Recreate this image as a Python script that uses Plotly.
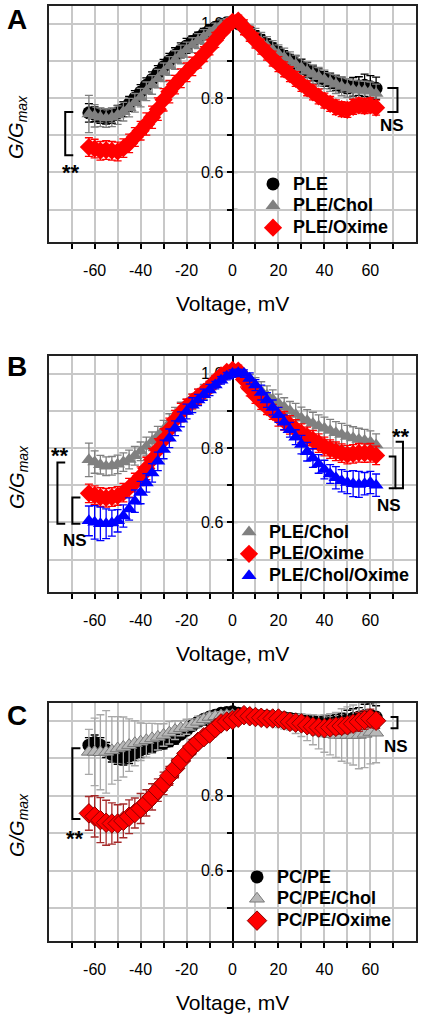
import plotly.graph_objects as go

# ---------------- data ----------------
voltage = [-62.5, -60, -57.5, -55, -52.5, -50, -47.5, -45, -42.5, -40, -37.5, -35, -32.5, -30,
           -27.5, -25, -22.5, -20, -17.5, -15, -12.5, -10, -7.5, -5, -2.5, 0, 2.5, 5, 7.5, 10,
           12.5, 15, 17.5, 20, 22.5, 25, 27.5, 30, 32.5, 35, 37.5, 40, 42.5, 45, 47.5, 50, 52.5,
           55, 57.5, 60, 62.5]

# Panel A
a_ple = [0.760, 0.756, 0.752, 0.750, 0.752, 0.760, 0.770, 0.784, 0.800, 0.816,
         0.834, 0.850, 0.867, 0.884, 0.900, 0.915, 0.928, 0.940, 0.952, 0.962,
         0.972, 0.982, 0.990, 0.997, 1.002, 1.005, 1.000, 0.990, 0.978, 0.966,
         0.955, 0.944, 0.933, 0.922, 0.912, 0.902, 0.893, 0.884, 0.875, 0.866,
         0.858, 0.851, 0.845, 0.840, 0.836, 0.832, 0.830, 0.832, 0.834, 0.830, 0.826]
a_ple_err = [0.025, 0.02, 0.02, 0.02, 0.02, 0.02, 0.02, 0.02, 0.02, 0.02,
             0.02, 0.02, 0.02, 0.02, 0.02, 0.02, 0.02, 0.02, 0.015, 0.015,
             0.015, 0.015, 0.01, 0.01, 0.01, 0.01, 0.01, 0.01, 0.01, 0.015,
             0.015, 0.015, 0.015, 0.015, 0.015, 0.015, 0.02, 0.02, 0.02, 0.02,
             0.02, 0.02, 0.02, 0.02, 0.02, 0.02, 0.025, 0.025, 0.03, 0.03, 0.03]
a_chol = [0.757, 0.752, 0.748, 0.746, 0.748, 0.754, 0.763, 0.774, 0.787, 0.801,
          0.818, 0.835, 0.852, 0.869, 0.886, 0.902, 0.917, 0.930, 0.942, 0.953,
          0.964, 0.975, 0.986, 0.995, 1.003, 1.008, 1.002, 0.990, 0.976, 0.962,
          0.951, 0.940, 0.929, 0.918, 0.909, 0.899, 0.890, 0.881, 0.872, 0.864,
          0.857, 0.850, 0.843, 0.837, 0.831, 0.827, 0.823, 0.821, 0.820, 0.818, 0.812]
a_chol_err = [0.05, 0.03, 0.025, 0.025, 0.025, 0.025, 0.025, 0.025, 0.025, 0.025,
              0.025, 0.025, 0.025, 0.025, 0.025, 0.025, 0.025, 0.02, 0.02, 0.02,
              0.02, 0.015, 0.015, 0.015, 0.01, 0.01, 0.01, 0.015, 0.02, 0.025,
              0.025, 0.025, 0.025, 0.025, 0.025, 0.025, 0.025, 0.025, 0.025, 0.025,
              0.025, 0.025, 0.025, 0.025, 0.025, 0.025, 0.025, 0.025, 0.025, 0.025, 0.025]
a_oxime = [0.668, 0.664, 0.658, 0.660, 0.658, 0.656, 0.665, 0.678, 0.695, 0.712,
           0.730, 0.748, 0.770, 0.795, 0.817, 0.836, 0.853, 0.869, 0.885, 0.900,
           0.918, 0.936, 0.956, 0.975, 0.992, 1.005, 1.008, 0.990, 0.972, 0.954,
           0.938, 0.922, 0.906, 0.891, 0.877, 0.864, 0.851, 0.838, 0.826, 0.815,
           0.804, 0.793, 0.784, 0.775, 0.770, 0.768, 0.776, 0.780, 0.778, 0.780, 0.774]
a_oxime_err = [0.025, 0.025, 0.025, 0.025, 0.025, 0.025, 0.025, 0.025, 0.025, 0.025,
               0.03, 0.03, 0.03, 0.03, 0.03, 0.025, 0.025, 0.025, 0.025, 0.02,
               0.02, 0.02, 0.02, 0.015, 0.015, 0.01, 0.015, 0.02, 0.02, 0.02,
               0.02, 0.02, 0.02, 0.02, 0.02, 0.02, 0.02, 0.02, 0.02, 0.02,
               0.02, 0.02, 0.02, 0.02, 0.02, 0.02, 0.02, 0.02, 0.02, 0.02, 0.02]

# Panel B
b_chol = [0.768, 0.762, 0.755, 0.751, 0.752, 0.756, 0.762, 0.769, 0.779, 0.791,
          0.804, 0.818, 0.833, 0.849, 0.867, 0.884, 0.898, 0.911, 0.925, 0.938,
          0.951, 0.964, 0.978, 0.991, 1.003, 1.012, 1.002, 0.990, 0.977, 0.964,
          0.953, 0.942, 0.931, 0.920, 0.910, 0.900, 0.890, 0.880, 0.873, 0.866,
          0.859, 0.853, 0.847, 0.841, 0.836, 0.831, 0.827, 0.823, 0.820, 0.816, 0.808]
b_chol_err = [0.045, 0.03, 0.025, 0.025, 0.025, 0.025, 0.025, 0.025, 0.025, 0.025,
              0.025, 0.025, 0.025, 0.025, 0.025, 0.025, 0.025, 0.02, 0.02, 0.02,
              0.02, 0.015, 0.015, 0.015, 0.01, 0.01, 0.01, 0.015, 0.02, 0.025,
              0.025, 0.025, 0.025, 0.025, 0.025, 0.025, 0.03, 0.03, 0.03, 0.03,
              0.03, 0.03, 0.03, 0.03, 0.03, 0.03, 0.03, 0.03, 0.03, 0.03, 0.03]
b_oxime = [0.678, 0.673, 0.668, 0.666, 0.668, 0.671, 0.680, 0.693, 0.707, 0.724,
           0.745, 0.769, 0.795, 0.822, 0.850, 0.876, 0.895, 0.911, 0.925, 0.938,
           0.951, 0.964, 0.980, 0.995, 1.005, 1.010, 1.008, 0.984, 0.960, 0.940,
           0.924, 0.910, 0.897, 0.884, 0.873, 0.862, 0.851, 0.840, 0.831, 0.822,
           0.813, 0.804, 0.797, 0.791, 0.786, 0.782, 0.784, 0.787, 0.786, 0.787, 0.780]
b_oxime_err = [0.025, 0.025, 0.025, 0.025, 0.025, 0.025, 0.025, 0.025, 0.025, 0.025,
               0.03, 0.03, 0.03, 0.03, 0.03, 0.025, 0.025, 0.02, 0.02, 0.02,
               0.015, 0.015, 0.015, 0.01, 0.01, 0.01, 0.015, 0.02, 0.02, 0.02,
               0.02, 0.02, 0.02, 0.025, 0.025, 0.025, 0.025, 0.025, 0.025, 0.025,
               0.025, 0.025, 0.025, 0.025, 0.025, 0.025, 0.025, 0.025, 0.025, 0.025, 0.025]
b_chol_oxime = [0.604, 0.600, 0.596, 0.596, 0.598, 0.604, 0.617, 0.636, 0.657, 0.680,
                0.706, 0.733, 0.764, 0.796, 0.826, 0.853, 0.877, 0.898, 0.915, 0.929,
                0.943, 0.956, 0.969, 0.982, 0.993, 1.000, 1.002, 1.000, 0.987, 0.969,
                0.949, 0.929, 0.909, 0.889, 0.869, 0.849, 0.829, 0.809, 0.790, 0.773,
                0.757, 0.742, 0.730, 0.720, 0.712, 0.707, 0.704, 0.702, 0.704, 0.707, 0.700]
b_chol_oxime_err = [0.04, 0.045, 0.045, 0.04, 0.035, 0.03, 0.03, 0.03, 0.03, 0.03,
                    0.025, 0.025, 0.025, 0.025, 0.025, 0.02, 0.02, 0.02, 0.02, 0.015,
                    0.015, 0.015, 0.01, 0.01, 0.01, 0.01, 0.01, 0.01, 0.015, 0.015,
                    0.02, 0.02, 0.02, 0.02, 0.02, 0.02, 0.02, 0.025, 0.025, 0.025,
                    0.025, 0.025, 0.025, 0.03, 0.03, 0.03, 0.035, 0.035, 0.03, 0.03, 0.03]

# Panel C
c_pcpe = [0.935, 0.942, 0.935, 0.922, 0.910, 0.904, 0.902, 0.906, 0.914, 0.922,
          0.927, 0.931, 0.936, 0.940, 0.946, 0.953, 0.964, 0.975, 0.987, 0.997,
          1.004, 1.010, 1.015, 1.020, 1.022, 1.024, 1.020, 1.018, 1.016, 1.015,
          1.013, 1.012, 1.011, 1.010, 1.008, 1.006, 1.004, 1.002, 1.000, 0.998,
          0.996, 0.993, 0.994, 0.997, 1.000, 1.003, 1.007, 1.010, 1.014, 1.015, 1.010]
c_pcpe_err = [0.02, 0.02, 0.02, 0.02, 0.02, 0.02, 0.02, 0.02, 0.02, 0.02,
              0.015, 0.015, 0.015, 0.015, 0.015, 0.015, 0.01, 0.01, 0.01, 0.01,
              0.01, 0.01, 0.01, 0.01, 0.01, 0.01, 0.01, 0.01, 0.01, 0.01,
              0.01, 0.01, 0.01, 0.01, 0.01, 0.01, 0.015, 0.015, 0.015, 0.015,
              0.015, 0.02, 0.02, 0.02, 0.02, 0.025, 0.025, 0.025, 0.03, 0.03, 0.03]
c_chol = [0.917, 0.917, 0.916, 0.917, 0.921, 0.926, 0.930, 0.935, 0.940, 0.944,
          0.948, 0.953, 0.957, 0.962, 0.968, 0.975, 0.980, 0.984, 0.990, 0.997,
          1.004, 1.010, 1.012, 1.014, 1.015, 1.015, 1.013, 1.012, 1.011, 1.010,
          1.008, 1.006, 1.004, 1.002, 0.998, 0.995, 0.991, 0.988, 0.982, 0.976,
          0.970, 0.966, 0.964, 0.962, 0.962, 0.962, 0.962, 0.962, 0.965, 0.970, 0.968]
c_chol_err = [0.06, 0.09, 0.1, 0.11, 0.09, 0.085, 0.08, 0.07, 0.06, 0.05,
              0.045, 0.04, 0.035, 0.03, 0.03, 0.025, 0.02, 0.02, 0.015, 0.015,
              0.01, 0.01, 0.01, 0.01, 0.01, 0.01, 0.01, 0.01, 0.01, 0.01,
              0.015, 0.015, 0.015, 0.02, 0.02, 0.02, 0.025, 0.03, 0.035, 0.04,
              0.045, 0.05, 0.055, 0.06, 0.07, 0.075, 0.08, 0.09, 0.09, 0.085, 0.08]
c_oxime = [0.753, 0.745, 0.735, 0.728, 0.726, 0.726, 0.733, 0.744, 0.754, 0.766,
           0.781, 0.797, 0.815, 0.833, 0.853, 0.873, 0.893, 0.913, 0.930, 0.944,
           0.956, 0.966, 0.980, 0.993, 0.998, 1.002, 1.008, 1.015, 1.012, 1.010,
           1.008, 1.006, 1.006, 1.006, 1.001, 0.997, 0.995, 0.993, 0.988, 0.984,
           0.982, 0.980, 0.982, 0.984, 0.986, 0.988, 0.992, 0.997, 1.002, 1.006, 1.000]
c_oxime_err = [0.045, 0.055, 0.06, 0.06, 0.055, 0.05, 0.045, 0.045, 0.04, 0.04,
               0.035, 0.035, 0.03, 0.03, 0.025, 0.025, 0.02, 0.02, 0.02, 0.015,
               0.015, 0.015, 0.01, 0.01, 0.01, 0.01, 0.01, 0.01, 0.01, 0.01,
               0.01, 0.01, 0.015, 0.015, 0.015, 0.015, 0.015, 0.015, 0.015, 0.015,
               0.015, 0.015, 0.015, 0.02, 0.02, 0.02, 0.02, 0.025, 0.025, 0.025, 0.02]

x_ticks = [-70, -60, -50, -40, -30, -20, -10, 0, 10, 20, 30, 40, 50, 60, 70]
x_ticktext = ["", "-60", "", "-40", "", "-20", "", "0", "", "20", "", "40", "", "60", ""]
y_ticks = [0.5, 0.6, 0.7, 0.8, 0.9, 1.0]
y_ticktext = ["", "0.6", "", "0.8", "", "1.0"]

# ---------------- layout helpers ----------------
W, H = 424, 1017
ML, MR, MT, MB = 48, 7, 5, 5
PW, PH = W - ML - MR, H - MT - MB
FONT = "Arial, Liberation Sans, sans-serif"


def pxx(x):
    return (x - ML) / PW


def pyy(y):
    return 1 - (y - MT) / PH


fig = go.Figure()


def add(x, y, err, name, ax, legend, symbol, color, size, ecolor, lcolor=None):
    fig.add_trace(go.Scatter(
        x=x, y=y, name='<span style="font-size:18px">%s</span>' % name, mode="markers",
        xaxis="x" + ax, yaxis="y" + ax, legend=legend,
        marker=dict(symbol=symbol, color=color, size=size,
                    line=dict(color=lcolor or color, width=1 if lcolor else 0)),
        error_y=dict(type="data", array=err, color=ecolor, thickness=1.3, width=4),
    ))


add(voltage, a_ple, a_ple_err, "PLE", "", "legend", "circle", "#000000", 13, "#000000")
add(voltage, a_chol, a_chol_err, "PLE/Chol", "", "legend", "triangle-up", "#808080", 13, "#808080")
add(voltage, a_oxime, a_oxime_err, "PLE/Oxime", "", "legend", "diamond", "#ff0000", 14, "#ff0000")

add(voltage, b_chol, b_chol_err, "PLE/Chol", "2", "legend2", "triangle-up", "#808080", 13, "#808080")
add(voltage, b_oxime, b_oxime_err, "PLE/Oxime", "2", "legend2", "diamond", "#ff0000", 14, "#ff0000")
add(voltage, b_chol_oxime, b_chol_oxime_err, "PLE/Chol/Oxime", "2", "legend2", "triangle-up", "#0000ff", 13, "#0000ff")

add(voltage, c_pcpe, c_pcpe_err, "PC/PE", "3", "legend3", "circle", "#000000", 13, "#000000")
add(voltage, c_chol, c_chol_err, "PC/PE/Chol", "3", "legend3", "triangle-up", "#b8b8b8", 13, "#a8a8a8", "#7a7a7a")
add(voltage, c_oxime, c_oxime_err, "PC/PE/Oxime", "3", "legend3", "diamond", "#ff0000", 15, "#a52a2a", "#8b0000")

panels = [("", (243, 5)), ("2", (593, 355)), ("3", (942, 702))]
layout = dict(
    width=W, height=H, margin=dict(l=ML, r=MR, t=MT, b=MB, autoexpand=False),
    paper_bgcolor="white", plot_bgcolor="white", showlegend=True,
    font=dict(family=FONT, color="black"),
)
shapes = []
annotations = []
for ax, (bot, top) in panels:
    yname = "y" + ax
    layout["xaxis" + ax] = dict(
        domain=[0, 1], anchor=yname, range=[-80.3, 80.3],
        tickmode="array", tickvals=x_ticks, ticktext=x_ticktext,
        ticks="outside", ticklen=5, tickwidth=1.5, tickcolor="black",
        showgrid=True, gridcolor="#c8c8c8", gridwidth=1.5, zeroline=False,
        showline=False, tickfont=dict(size=16, family=FONT), ticklabelstandoff=8,
        automargin=False,
    )
    layout["yaxis" + ax] = dict(
        domain=[pyy(bot), pyy(top)], anchor="free", position=0.5,
        range=[0.41, 1.05], tickmode="array", tickvals=y_ticks, ticktext=y_ticktext,
        ticks="outside", ticklen=5, tickwidth=1.5, tickcolor="black",
        showline=True, linecolor="black", linewidth=2,
        showgrid=True, gridcolor="#c8c8c8", gridwidth=1.5, zeroline=False,
        tickfont=dict(size=16, family=FONT), layer="below traces", automargin=False,
    )
    xr = "x" + ax
    # frame
    shapes.append(dict(type="rect", xref=xr + " domain", yref=yname + " domain",
                       x0=0, x1=1, y0=0, y1=1, line=dict(color="#222", width=2), layer="above"))
    # inside half of the crossing ticks on the y axis
    for v in y_ticks:
        shapes.append(dict(type="line", xref=xr, yref=yname, x0=0, x1=2.2, y0=v, y1=v,
                           line=dict(color="black", width=1.5), layer="below"))
    # axis titles
    annotations.append(dict(xref="paper", yref="paper", x=0.5, y=pyy(bot + 60),
                            text="Voltage, mV", showarrow=False, xanchor="center", yanchor="middle",
                            font=dict(size=21, family=FONT)))
    annotations.append(dict(xref="paper", yref="paper", x=pxx(18), y=pyy((bot + top) / 2 + 3),
                            text="<i>G/G<sub>max</sub></i>", textangle=-90, showarrow=False,
                            xanchor="center", yanchor="middle", font=dict(size=20, family=FONT)))

# panel letters
for letter, yc in [("A", 19), ("B", 367), ("C", 715)]:
    annotations.append(dict(xref="paper", yref="paper", x=pxx(17), y=pyy(yc), text="<b>%s</b>" % letter,
                            showarrow=False, xanchor="center", yanchor="middle",
                            font=dict(size=28, family=FONT)))


def bracket(ax, xv, xt, y0, y1):
    shapes.append(dict(type="path", xref="x" + ax, yref="y" + ax,
                       path="M %s,%s L %s,%s L %s,%s L %s,%s" % (xt, y0, xv, y0, xv, y1, xt, y1),
                       line=dict(color="black", width=2)))


def label(ax, x, y, text):
    annotations.append(dict(xref="x" + ax, yref="y" + ax, x=x, y=y, text="<b>%s</b>" % text,
                            showarrow=False, xanchor="center", yanchor="middle",
                            font=dict(size=17 if text == "NS" else 22, family=FONT)))


# Panel A marks
bracket("", -72.8, -69.3, 0.762, 0.646)
label("", -70.5, 0.600, "**")
bracket("", 71.8, 67.4, 0.827, 0.762)
label("", 69.5, 0.727, "NS")
# Panel B marks
bracket("2", -76.2, -72.8, 0.761, 0.596)
label("2", -75.0, 0.780, "**")
bracket("2", -69.7, -66.2, 0.667, 0.596)
label("2", -68.4, 0.550, "NS")
bracket("2", 70.9, 68.0, 0.777, 0.692)
bracket("2", 74.2, 71.0, 0.817, 0.692)
label("2", 73.4, 0.830, "**")
label("2", 68.0, 0.644, "NS")
# Panel C marks
bracket("3", -69.7, -66.2, 0.927, 0.738)
label("3", -68.4, 0.685, "**")
bracket("3", 71.8, 68.8, 1.010, 0.980)
label("3", 71.0, 0.932, "NS")

layout["shapes"] = shapes
layout["annotations"] = annotations

leg_common = dict(xanchor="left", yanchor="top", bgcolor="rgba(0,0,0,0)",
                  font=dict(size=14.5, family=FONT, color="black", weight="bold"),
                  itemsizing="trace", tracegroupgap=0)
layout["legend"] = dict(x=pxx(253), y=pyy(168), **leg_common)
layout["legend2"] = dict(x=pxx(229), y=pyy(516), **leg_common)
layout["legend3"] = dict(x=pxx(237), y=pyy(861), **leg_common)

fig.update_layout(**layout)
fig.write_html("out.html", config={"displayModeBar": False},
               post_script="document.body.style.margin='0';document.body.style.overflow='hidden';")
